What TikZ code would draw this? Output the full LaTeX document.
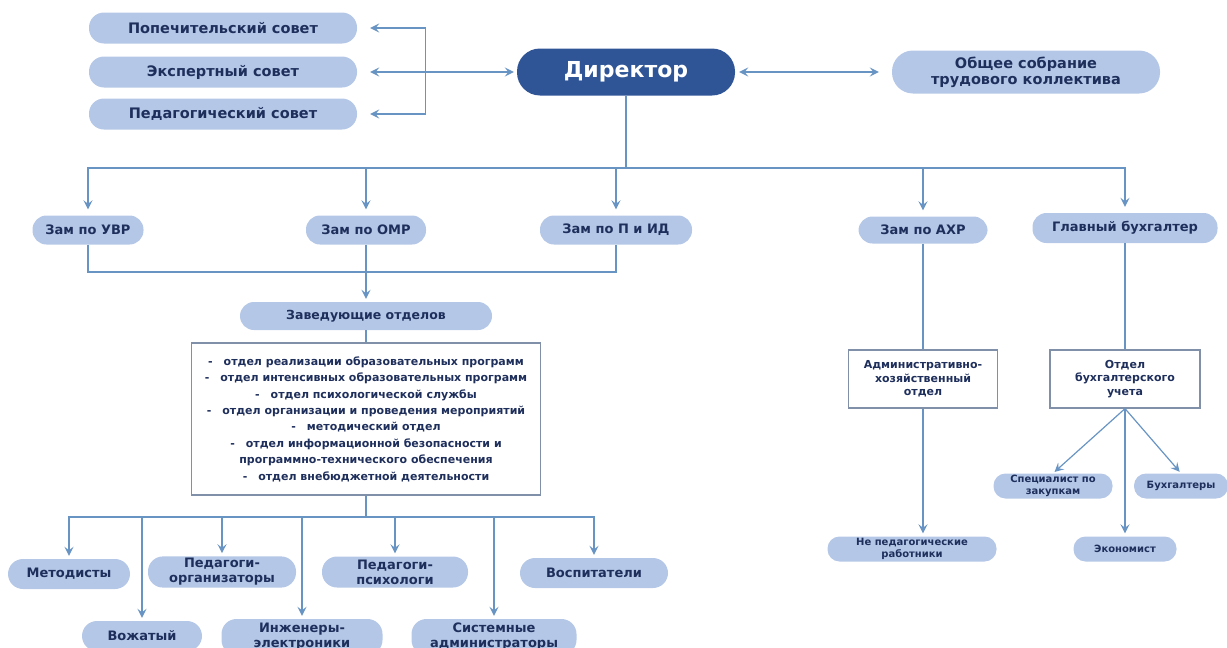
\documentclass[tikz,border=0pt]{standalone}
\usepackage{fontspec}
\setmainfont{DejaVu Sans}
\usepackage{xcolor}
\usetikzlibrary{positioning, arrows.meta}

\definecolor{pillblue}{HTML}{B4C7E7}
\definecolor{dirblue}{HTML}{2F5597}
\definecolor{navy}{HTML}{1F2F5C}
\definecolor{linkblue}{HTML}{6894C4}
\definecolor{boxgray}{HTML}{7F90A8}
\newcommand{\fsz}[2]{\fontsize{#1}{#2}\selectfont}

\begin{document}
\begin{tikzpicture}[
  x=1pt, y=-1pt, on grid,
  >={Stealth[length=9pt, width=9pt, inset=3.5pt]},
  every node/.style={align=center, text=navy, inner sep=2pt},
  pill/.style={fill=pillblue, rounded corners=#1},
  pill/.default=14pt,
  council/.style={pill=15pt, minimum width=268pt, minimum height=31pt, font=\bfseries\fsz{14.5}{16}},
  zam/.style={pill=14pt, minimum height=29pt, font=\bfseries\fsz{13}{15}},
  staff/.style={pill=15pt, minimum height=30pt, font=\bfseries\fsz{13}{15}},
  small/.style={pill=12pt, minimum height=25pt, inner sep=1pt, font=\bfseries\fsz{10}{11.5}},
  rbox/.style={draw=boxgray, line width=1.2pt, fill=white, inner sep=4pt},
  link/.style={draw=linkblue, line width=1.2pt},
]
\useasboundingbox (0,0) rectangle (1227,648);

% Director and councils
\node[pill=23pt, fill=dirblue, text=white, minimum width=218pt, minimum height=47pt,
      font=\bfseries\fsz{22}{26}] (dir) at (626,72) {Директор};
\node[council, left=403pt of dir] (exp) {Экспертный совет};
\node[council, above=44pt of exp] (pop) {Попечительский совет};
\node[council, below=42pt of exp] (ped) {Педагогический совет};
\node[council, pill=21pt, minimum height=43pt, font=\bfseries\fsz{14.5}{16},
      right=400pt of dir] (obs) {Общее собрание\\трудового коллектива};

% Deputies
\node[zam, minimum width=120pt] (omr) at (366,230) {Зам по ОМР};
\node[zam, minimum width=111pt, left=278pt of omr] (uvr) {Зам по УВР};
\node[zam, minimum width=152pt, right=250pt of omr] (pid) {Зам по П и ИД};
\node[zam, minimum width=129pt, minimum height=27pt, right=557pt of omr] (ahr) {Зам по АХР};
\node[zam, minimum width=185pt, minimum height=30pt, right=759pt of omr, yshift=2pt] (gb) {Главный бухгалтер};

% Departments
\node[zam, minimum width=252pt, minimum height=28pt, font=\bfseries\fsz{12.5}{15},
      below=86pt of omr] (zav) {Заведующие отделов};
\node[rbox, minimum width=349pt, minimum height=152pt, font=\bfseries\fsz{11}{16.4},
      below=103pt of zav] (otd) {%
  -\quad отдел реализации образовательных программ\\
  -\quad отдел интенсивных образовательных программ\\
  -\quad отдел психологической службы\\
  -\quad отдел организации и проведения мероприятий\\
  -\quad методический отдел\\
  -\quad отдел информационной безопасности и\\
  программно-технического обеспечения\\
  -\quad отдел внебюджетной деятельности};
\node[rbox, minimum width=149pt, minimum height=58pt, font=\bfseries\fsz{11}{13.5},
      below=149pt of ahr] (ahot) {Административно-\\хозяйственный\\отдел};
\node[rbox, minimum width=150pt, minimum height=58pt, font=\bfseries\fsz{11}{13.5},
      below=151pt of gb] (buh) {Отдел\\бухгалтерского\\учета};

% Right-hand staff
\node[small, minimum width=169pt, below=170pt of ahot, xshift=-11pt] (nep) {Не педагогические\\работники};
\node[small, minimum width=103pt, below=170pt of buh] (econ) {Экономист};
\node[small, minimum width=119pt, below left=107pt and 72pt of buh] (spec) {Специалист по\\закупкам};
\node[small, minimum width=94pt, below right=107pt and 56pt of buh] (buhs) {Бухгалтеры};

% Bottom staff
\node[staff, minimum width=122pt] (met) at (69,574) {Методисты};
\node[staff, minimum width=120pt] (voz) at (142,636) {Вожатый};
\node[staff, minimum width=148pt, minimum height=31pt] (porg) at (222,572) {Педагоги-\\организаторы};
\node[staff, minimum width=161pt, minimum height=36pt] (ing) at (302,637) {Инженеры-\\электроники};
\node[staff, minimum width=146pt, minimum height=31pt] (psy) at (395,572) {Педагоги-\\психологи};
\node[staff, minimum width=165pt, minimum height=36pt] (sys) at (494,637) {Системные\\администраторы};
\node[staff, minimum width=148pt] (vos) at (594,573) {Воспитатели};

% Edges
\coordinate (brk) at ([xshift=68pt]exp.east);
\draw[link, <->, shorten <=13pt, shorten >=3pt] (exp) -- (dir);
\draw[link, ->, shorten >=13pt] (brk) |- (pop);
\draw[link, ->, shorten >=13pt] (brk) |- (ped);
\draw[link, <->, shorten <=4pt, shorten >=13pt] (dir) -- (obs);

\coordinate (dj) at (dir.south |- 0,168);
\draw[link] (dir) -- (dj);
\foreach \n in {uvr, omr, pid, ahr, gb}
  \draw[link, ->, shorten >=6pt] (dj) -| (\n);

\coordinate (mj) at (omr.south |- 0,272);
\draw[link] (uvr) |- (mj) -| (pid);
\draw[link, ->, shorten >=3pt] (omr) -- (zav);
\draw[link] (zav) -- (otd);

\coordinate (bj) at (otd.south |- 0,517);
\draw[link] (otd) -- (bj);
\foreach \n in {met, voz, porg, ing, psy, sys, vos}
  \draw[link, ->, shorten >=3pt] (bj) -| (\n);

\draw[link] (ahr) -- (ahot);
\draw[link, ->, shorten >=3pt] (ahot.south) -- (ahot.south |- nep.north);
\draw[link] (gb) -- (buh);
\draw[link, ->, shorten >=2pt] (buh.south) -- (spec.north);
\draw[link, ->, shorten >=2pt] (buh.south) -- (buhs.north);
\draw[link, ->, shorten >=3pt] (buh) -- (econ);
\end{tikzpicture}
\end{document}
